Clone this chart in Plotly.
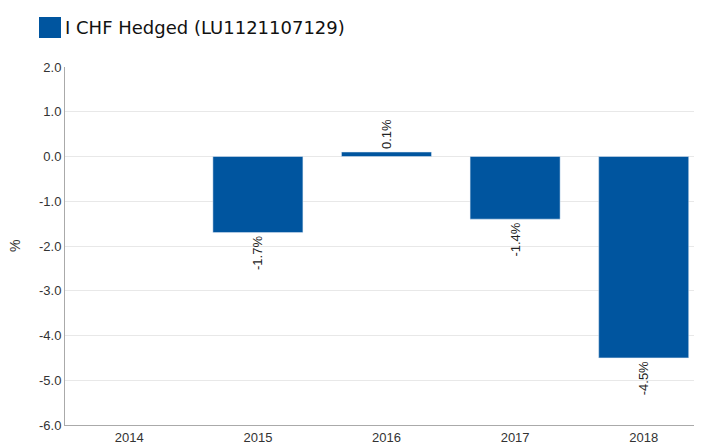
import plotly.graph_objects as go

years = ["2014", "2015", "2016", "2017", "2018"]
values = [None, -1.7, 0.1, -1.4, -4.5]
series_name = "I CHF Hedged (LU1121107129)"
y_ticks = [2, 1, 0, -1, -2, -3, -4, -5, -6]
y_tick_labels = ["2.0", "1.0", "0.0", "-1.0", "-2.0", "-3.0", "-4.0", "-5.0", "-6.0"]
bar_color = "#00559F"

labels = ["" if v is None else f"{v:.1f}%" for v in values]

fig = go.Figure()
fig.add_trace(go.Bar(
    x=years, y=values, marker_color=bar_color, name=series_name,
    text=labels, textposition="outside", textangle=-90,
    textfont=dict(family="Liberation Sans, Arial", size=13, color="#222222"),
    cliponaxis=False, showlegend=False,
))

# page has an 8px body margin; target plot area in window pixels: x 65..708, y 67..425
OFF = 8
W, H = 702, 444
L, T = 65 - OFF, 67 - OFF
R = (W + OFF) - 708
B = H - (425 - OFF)
pw, ph = W - L - R, H - T - B

def px(x):
    return (x - OFF - L) / pw

def py(y):
    return (H - B - (y - OFF)) / ph

fig.add_shape(type="rect", xref="paper", yref="paper",
              x0=px(39), x1=px(61), y0=py(38), y1=py(17),
              fillcolor=bar_color, line=dict(width=0))
fig.add_annotation(xref="paper", yref="paper", x=px(63), y=py(27.5),
                   xanchor="left", yanchor="middle", showarrow=False,
                   text=series_name,
                   font=dict(family="DejaVu Sans", size=18, color="#111111"))
fig.add_annotation(xref="paper", yref="paper", x=px(15), y=0.5,
                   xanchor="center", yanchor="middle", showarrow=False,
                   text="%", textangle=-90,
                   font=dict(family="Liberation Sans, Arial", size=14, color="#333333"))

fig.update_layout(
    width=W, height=H,
    margin=dict(l=L, r=R, t=T, b=B, autoexpand=False),
    paper_bgcolor="white", plot_bgcolor="white",
    bargap=0.30,
    xaxis=dict(type="category", showline=True, linecolor="#aaaaaa", linewidth=1,
               showgrid=False, ticks="", automargin=False, ticklabelstandoff=0,
               tickfont=dict(family="Liberation Sans, Arial", size=13, color="#333333")),
    yaxis=dict(range=[-6, 2], tickmode="array", tickvals=y_ticks, ticktext=y_tick_labels,
               showline=True, linecolor="#aaaaaa", linewidth=1, showgrid=True,
               gridcolor="#e8e8e8", zeroline=False, ticks="", automargin=False,
               tickfont=dict(family="Liberation Sans, Arial", size=13, color="#333333")),
)

fig.write_html("out.html")
